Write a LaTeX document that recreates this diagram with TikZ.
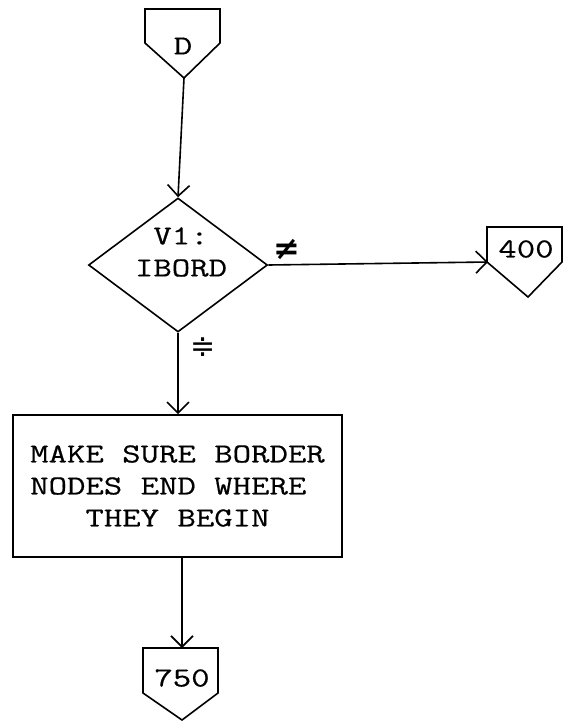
\documentclass[tikz,border=0pt]{standalone}
\usepackage{fontspec}
\setmonofont[FakeStretch=1.3,FakeBold=0.5]{Latin Modern Mono}
\newfontfamily\symfont{DejaVu Sans}
\usetikzlibrary{shapes.geometric,arrows.meta}
\begin{document}
\begin{tikzpicture}[x=1pt,y=-1pt,
  line width=1.6pt,
  txt/.style={font=\ttfamily\fontsize{27.5}{32}\selectfont, inner sep=0pt},
  flow/.style={-{Straight Barb[length=11pt,width=22pt,line width=1.6pt]}},
  ]
\useasboundingbox (0,0) rectangle (564,721);
% off-page connector D
\draw (145,9) -- (220,9) -- (220,43) -- (184,78) -- (145,43) -- cycle;
\node[txt] (D) at (183,46) {D};
\coordinate (Dtip) at (184,78);
% decision
\node[draw, diamond, minimum width=179pt, minimum height=134pt, inner sep=0pt, line width=1.6pt] (V1) at (178,265) {};
\node[txt, align=center] (V1t) at (181,252) {V1:\\IBORD};
% connector 400
\draw (487,227) -- (562,227) -- (562,262) -- (528,297) -- (487,262) -- cycle;
\node[txt] (c400) at (526,249) {400};
\coordinate (c400in) at (488,262);
% process box
\node[draw, txt, minimum width=329pt, minimum height=142pt, align=left, line width=1.6pt] (box) at (177.5,486) {MAKE SURE BORDER\\NODES END WHERE\\\phantom{XXX}THEY BEGIN};
% connector 750
\draw (143,648) -- (218,648) -- (218,693) -- (182,720) -- (143,693) -- cycle;
\node[txt] (c750) at (182,678) {750};
\coordinate (c750in) at (182,648);
% flow lines
\draw[flow] (Dtip) -- (V1.north);
\draw[flow] (V1.east) -- (c400in);
\draw[flow] (V1.south) -- (box.north -| V1.south);
\draw[flow] (box.south -| c750in) -- (c750in);
% labels
\node[font=\symfont\bfseries\fontsize{32}{32}\selectfont, inner sep=0pt] (ne) at (287,249) {≠};
\node[font=\symfont\fontsize{30}{30}\selectfont, inner sep=0pt] (eq) at (203,347) {≑};
\end{tikzpicture}
\end{document}
